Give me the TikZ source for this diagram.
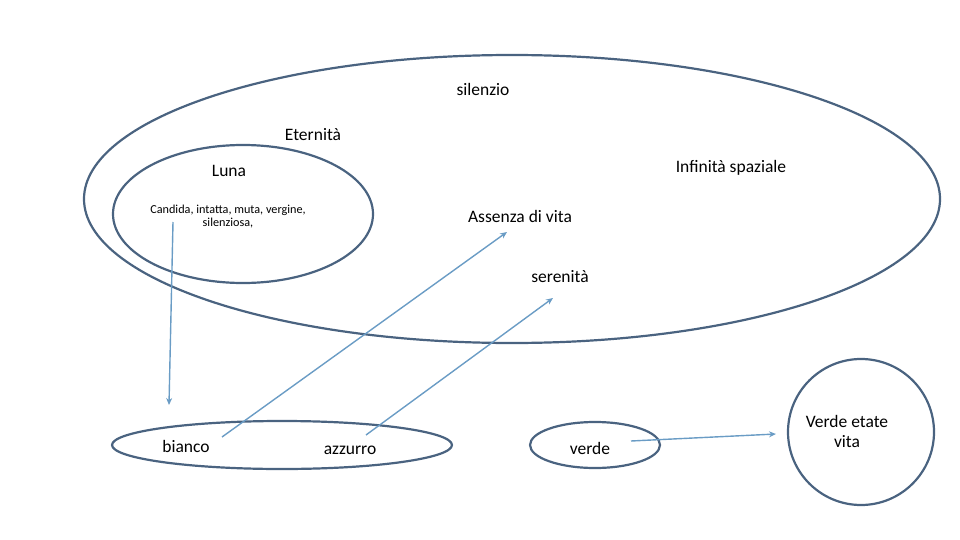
\documentclass[tikz,border=0pt]{standalone}
\usepackage{fontspec}
\setmainfont{Carlito}
\usetikzlibrary{arrows.meta}
\definecolor{ringcol}{HTML}{4A6380}
\definecolor{arrcol}{HTML}{6A9CC5}
\tikzset{
  ring/.style={draw=ringcol, line width=2.2pt},
  lbl/.style={font=\fontsize{17.5}{20}\selectfont, inner sep=0pt},
  small/.style={font=\fontsize{12.2}{13}\selectfont, inner sep=0pt, align=center},
  link/.style={draw=arrcol, line width=1.4pt, -{Stealth[length=7pt,width=6pt]}}
}
\begin{document}
\begin{tikzpicture}[x=1pt,y=-1pt]
\useasboundingbox (0,0) rectangle (960,540);
% rings
\draw[ring] (512,199) ellipse [x radius=428, y radius=144];
\draw[ring] (243,214) ellipse [x radius=130, y radius=69];
\draw[ring] (282,445) ellipse [x radius=170, y radius=24];
\draw[ring] (595,445) ellipse [x radius=65, y radius=23];
\draw[ring] (861,432) circle [radius=73];
% labels
\node[lbl] (silenzio) at (483,89) {silenzio};
\node[lbl] (eternita) at (313,135) {Eternità};
\node[lbl] (luna) at (229,171) {Luna};
\node[lbl] (infinita) at (731,168) {Infinità spaziale};
\node[small] (candida) at (228,217) {Candida, intatta, muta, vergine,\\silenziosa,};
\node[lbl] (assenza) at (520,216) {Assenza di vita};
\node[lbl] (serenita) at (560,277) {serenità};
\node[lbl] (bianco) at (186,446) {bianco};
\node[lbl] (azzurro) at (350,450) {azzurro};
\node[lbl] (verde) at (590,448) {verde};
\node[lbl, align=center] (etate) at (847,431) {Verde etate\\vita};
% connector ends
\coordinate (a1s) at (173,222);
\coordinate (a1e) at (169,405);
\coordinate (a2s) at (222,437);
\coordinate (a2e) at (507,232);
\coordinate (a3s) at (366,435);
\coordinate (a3e) at (553,298);
\coordinate (a4s) at (631,441);
\coordinate (a4e) at (776,434);
\draw[link] (a1s) -- (a1e);
\draw[link] (a2s) -- (a2e);
\draw[link] (a3s) -- (a3e);
\draw[link] (a4s) -- (a4e);
\end{tikzpicture}
\end{document}
